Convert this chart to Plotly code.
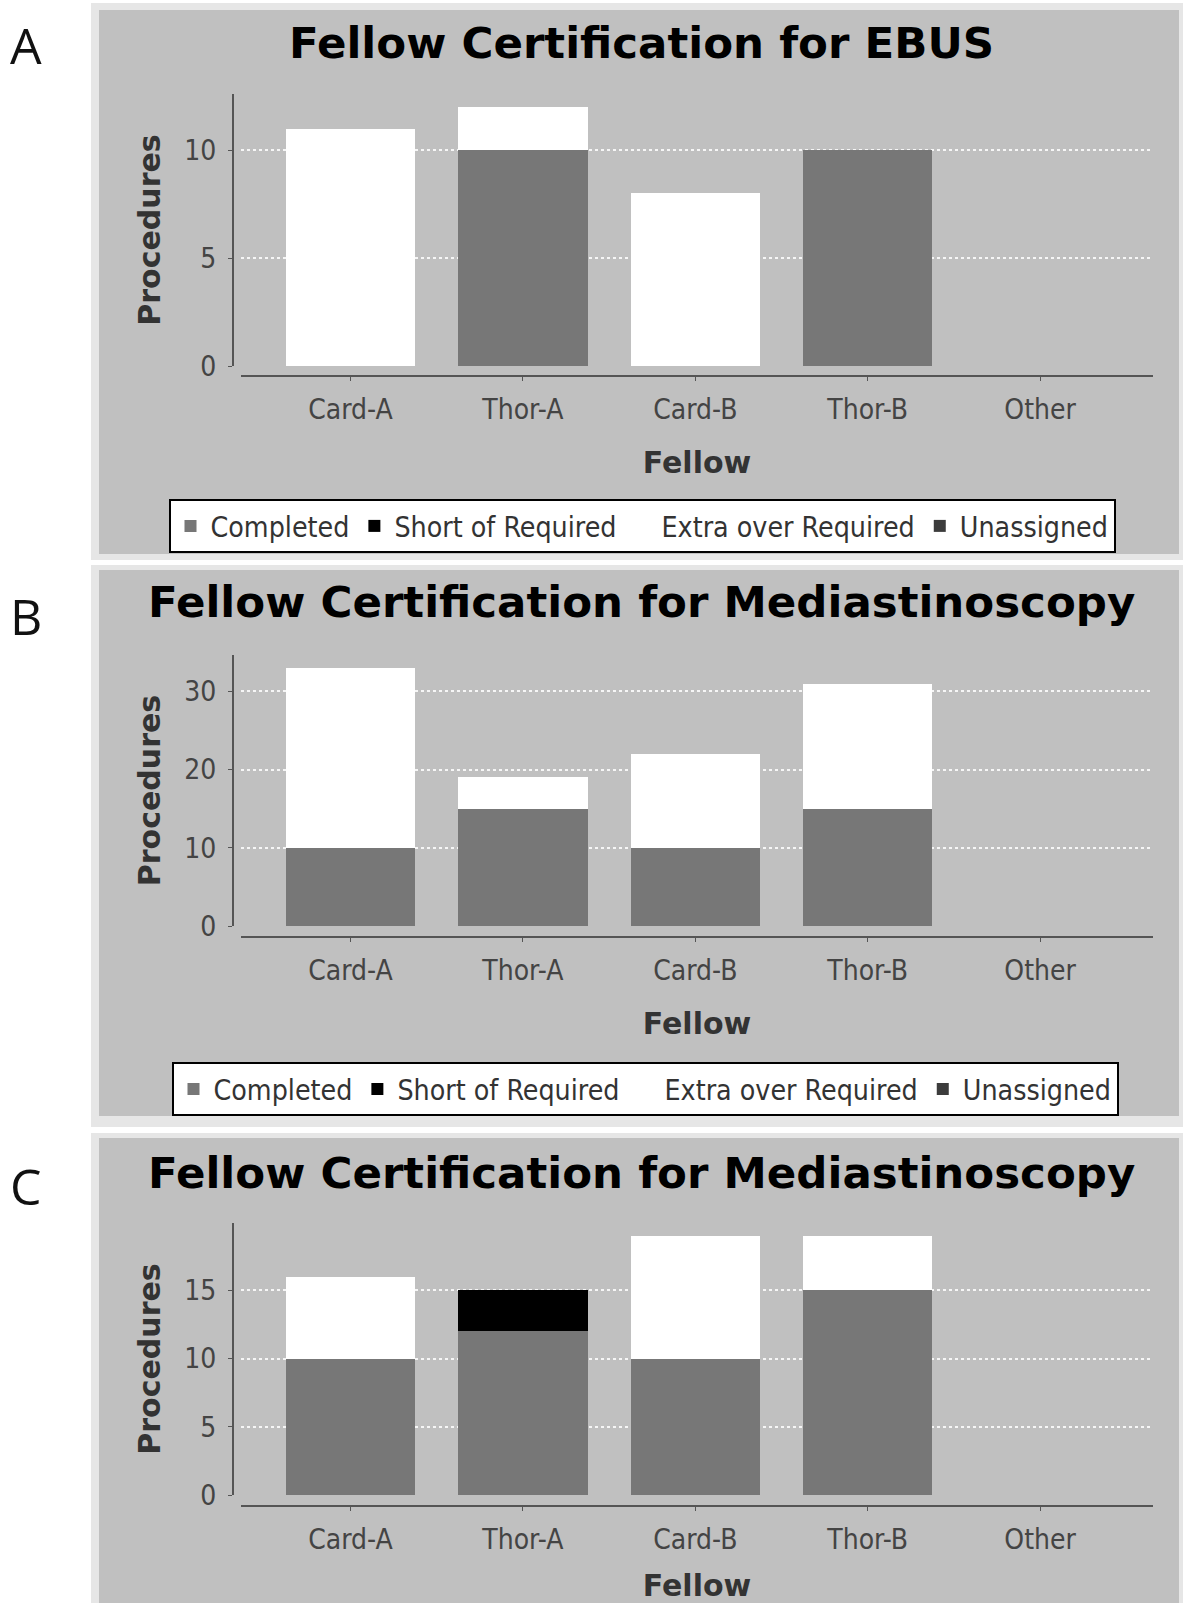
import plotly.graph_objects as go

# ---------------- data ----------------
categories = ["Card-A", "Thor-A", "Card-B", "Thor-B", "Other"]
series_names = ["Completed", "Short of Required", "Extra over Required", "Unassigned"]

titles = ["Fellow Certification for EBUS",
          "Fellow Certification for Mediastinoscopy",
          "Fellow Certification for Mediastinoscopy"]
panel_labels = ["A", "B", "C"]

a_completed = [0, 10, 0, 10, 0]
a_short = [0, 0, 0, 0, 0]
a_extra = [11, 2, 8, 0, 0]
a_unassigned = [0, 0, 0, 0, 0]

b_completed = [10, 15, 10, 15, 0]
b_short = [0, 0, 0, 0, 0]
b_extra = [23, 4, 12, 16, 0]
b_unassigned = [0, 0, 0, 0, 0]

c_completed = [10, 12, 10, 15, 0]
c_short = [0, 3, 0, 0, 0]
c_extra = [6, 0, 9, 4, 0]
c_unassigned = [0, 0, 0, 0, 0]

y_dticks = [5, 10, 5]

# ---------------- styling ----------------
W, H = 1184, 1603
COLORS = ["#777777", "#000000", "#ffffff", "#3c3c3c"]
PANEL_GREY = "#c0c0c0"
FRAME_GREY = "#e6e6e6"
TICK_FONT = dict(family="DejaVu Sans Condensed, DejaVu Sans", size=28, color="#444444")
LEGEND_FONT = dict(family="DejaVu Sans Condensed, DejaVu Sans", size=28.3, color="#333333")
AXTITLE_FONT = dict(family="DejaVu Sans", size=30, color="#333333", weight="bold")
TITLE_FONT = dict(family="DejaVu Sans", size=43.5, color="#000000", weight="bold")
LABEL_FONT = dict(family="Open Sans, DejaVu Sans", size=50, color="#111111")


def px(x):
    return x / W


def py(y):
    return 1 - y / H


panels = [
    dict(series=[a_completed, a_short, a_extra, a_unassigned],
         data_top=94, data_bottom=366, xaxis_y=376,
         frame=(3, 560), grey=(10, 554), title_y=43, label_y=45,
         legend=dict(cx=642, top=499)),
    dict(series=[b_completed, b_short, b_extra, b_unassigned],
         data_top=655, data_bottom=926, xaxis_y=937,
         frame=(565, 1127), grey=(570, 1116), title_y=602, label_y=616,
         legend=dict(cx=645, top=1062)),
    dict(series=[c_completed, c_short, c_extra, c_unassigned],
         data_top=1223, data_bottom=1495, xaxis_y=1506,
         frame=(1133, 1610), grey=(1138, 1610), title_y=1173, label_y=1186,
         legend=None),
]

X_LEFT, X_RIGHT, YAXIS_X = 241, 1153, 233

fig = go.Figure()
shapes = []
annotations = []

for i, p in enumerate(panels):
    n = "" if i == 0 else str(i + 1)
    legend_id = "legend" + n
    for name, vals, col in zip(series_names, p["series"], COLORS):
        fig.add_trace(go.Bar(
            x=categories, y=vals, name=name,
            marker=dict(color=col, line=dict(width=0)),
            xaxis="x" + n, yaxis="y" + n,
            legend=legend_id,
            showlegend=p["legend"] is not None,
        ))

    totals = [sum(v) for v in zip(*p["series"])]
    ymax = max(totals) * 1.05

    fig.update_layout(**{
        "xaxis" + n: dict(
            type="category", categoryorder="array", categoryarray=categories,
            domain=[px(X_LEFT), px(X_RIGHT)], range=[-0.635, 4.655],
            anchor="free", position=py(p["xaxis_y"]), automargin=False,
            showline=True, linecolor="#555555", linewidth=2,
            ticks="outside", ticklen=4, tickcolor="#555555",
            tickfont=TICK_FONT, ticklabelstandoff=4,
            showgrid=False, zeroline=False, fixedrange=True,
            title=dict(text="Fellow", font=AXTITLE_FONT, standoff=26),
        ),
        "yaxis" + n: dict(
            domain=[py(p["data_bottom"]), py(p["data_top"])],
            range=[0, ymax], dtick=y_dticks[i], tick0=0,
            anchor="free", position=px(YAXIS_X), automargin=False,
            showline=True, linecolor="#555555", linewidth=2,
            ticks="outside", ticklen=4, tickcolor="#555555",
            tickfont=TICK_FONT, ticklabelstandoff=6,
            showgrid=True, gridcolor="rgba(255,255,255,0.85)", gridwidth=1.5,
            griddash="3px,3px",
            zeroline=True, zerolinecolor="rgba(0,0,0,0)",
            fixedrange=True,
            title=dict(text="Procedures", font=AXTITLE_FONT, standoff=14),
        ),
    })

    # panel frame and grey background
    shapes.append(dict(type="rect", xref="paper", yref="paper", layer="below",
                       x0=px(91), x1=px(1183), y0=py(p["frame"][1]), y1=py(p["frame"][0]),
                       fillcolor=FRAME_GREY, line=dict(width=0)))
    shapes.append(dict(type="rect", xref="paper", yref="paper", layer="below",
                       x0=px(99), x1=px(1179), y0=py(p["grey"][1]), y1=py(p["grey"][0]),
                       fillcolor=PANEL_GREY, line=dict(width=0)))

    annotations.append(dict(text=titles[i], x=px(641), y=py(p["title_y"]),
                            xref="paper", yref="paper", xanchor="center", yanchor="middle",
                            showarrow=False, font=TITLE_FONT))
    annotations.append(dict(text=panel_labels[i], x=px(26), y=py(p["label_y"]),
                            xref="paper", yref="paper", xanchor="center", yanchor="middle",
                            showarrow=False, font=LABEL_FONT))

    if p["legend"] is not None:
        fig.update_layout(**{legend_id: dict(
            orientation="h", x=px(p["legend"]["cx"]), xanchor="center",
            y=py(p["legend"]["top"]), yanchor="top",
            bgcolor="#ffffff", bordercolor="#000000", borderwidth=2,
            font=LEGEND_FONT, traceorder="normal", itemclick=False, itemdoubleclick=False,
        )})

fig.update_layout(
    width=W, height=H,
    margin=dict(l=0, r=0, t=0, b=0, autoexpand=False),
    paper_bgcolor="#ffffff", plot_bgcolor="rgba(0,0,0,0)",
    barmode="stack", bargap=0.25,
    shapes=shapes, annotations=annotations,
    showlegend=True,
)

fig.write_html(
    "out.html",
    post_script="document.body.style.margin='0';",
    config={"displayModeBar": False},
)
